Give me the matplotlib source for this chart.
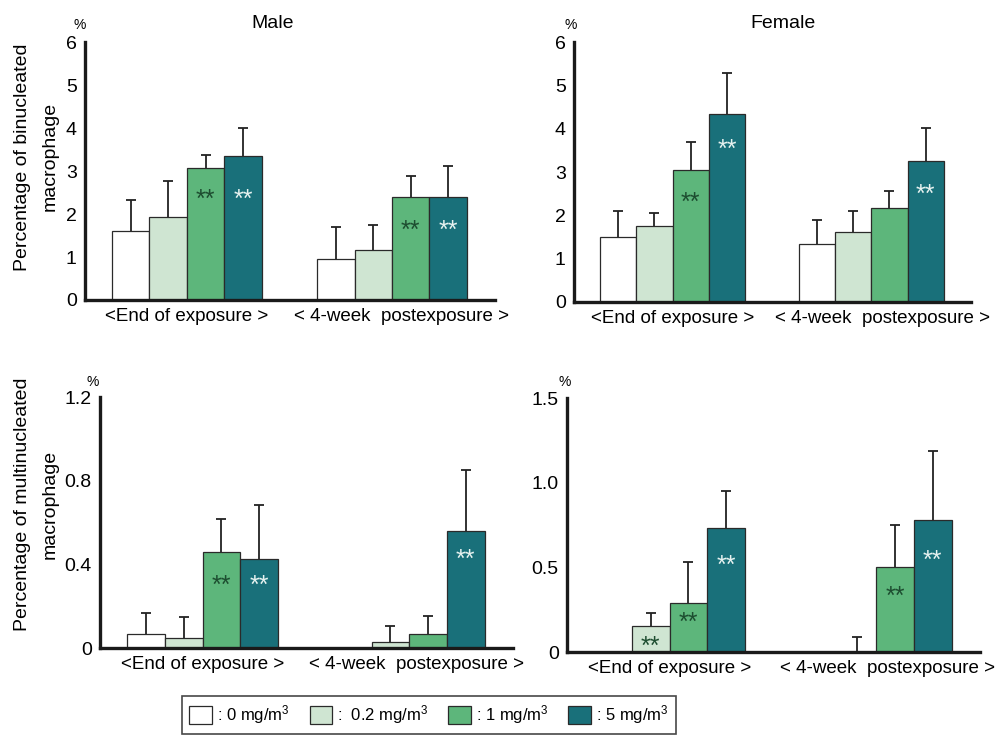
import numpy as np
import matplotlib
matplotlib.use('Agg')
import matplotlib.pyplot as plt
from matplotlib.patches import Patch
from matplotlib.transforms import offset_copy

plt.rcParams['font.family'] = ['Liberation Sans', 'DejaVu Sans']
plt.rcParams['mathtext.default'] = 'regular'

dose_labels = [': 0 mg/m$^3$', ':  0.2 mg/m$^3$', ': 1 mg/m$^3$', ': 5 mg/m$^3$']
colors = ['#ffffff', '#cfe5d2', '#5db67b', '#19707a']
star_colors = ['#1d4d30', '#1d4d30', '#1d4d30', '#e6f2f0']
groups = ['<End of exposure >', '< 4-week  postexposure >']

# mean / upper error, per group (end of exposure, 4-week post), per dose
male_bi_mean = [[1.60, 1.93, 3.07, 3.35], [0.95, 1.16, 2.40, 2.40]]
male_bi_err = [[0.73, 0.84, 0.30, 0.65], [0.75, 0.58, 0.48, 0.72]]
female_bi_mean = [[1.50, 1.76, 3.05, 4.34], [1.34, 1.62, 2.17, 3.26]]
female_bi_err = [[0.60, 0.29, 0.65, 0.95], [0.55, 0.48, 0.39, 0.76]]
male_multi_mean = [[0.067, 0.048, 0.46, 0.425], [0.0, 0.03, 0.067, 0.56]]
male_multi_err = [[0.10, 0.10, 0.157, 0.26], [np.nan, 0.075, 0.086, 0.29]]
female_multi_mean = [[0.0, 0.154, 0.29, 0.73], [0.0, 0.0, 0.50, 0.78]]
female_multi_err = [[np.nan, 0.076, 0.24, 0.22], [np.nan, 0.09, 0.25, 0.41]]

# ** marks: (group, dose, y)
male_bi_stars = [(0, 2, 2.44), (0, 3, 2.44), (1, 2, 1.72), (1, 3, 1.72)]
female_bi_stars = [(0, 2, 2.40), (0, 3, 3.62), (1, 3, 2.60)]
male_multi_stars = [(0, 2, 0.32), (0, 3, 0.32), (1, 3, 0.445)]
female_multi_stars = [(0, 1, 0.06), (0, 2, 0.20), (0, 3, 0.54), (1, 2, 0.355), (1, 3, 0.57)]

FS = 14

fig = plt.figure(figsize=(10, 7.4), dpi=100)


def panel(rect, means, errs, stars, ymax, yticks, yticklabels, lab_shift):
    ax = fig.add_axes(rect)
    for g in range(2):
        x = g * 5.48 + 1.22 + np.arange(4)
        ax.bar(x, means[g], width=1.0, color=colors, edgecolor='#2a2a2a', linewidth=0.9, zorder=2)
        err = np.array(errs[g])
        eb = ax.errorbar(x, means[g], yerr=[np.zeros(4), err], fmt='none', ecolor='#222222',
                         elinewidth=1.3, capsize=3.5, capthick=1.3, zorder=1)
        eb[1][0].set_visible(False)
    # asterisk glyph sits high in the font, nudge it down a bit
    star_tr = offset_copy(ax.transData, fig=fig, x=0, y=-5, units='dots')
    for g, d, y in stars:
        ax.text(g * 5.48 + 1.22 + d, y, '**', ha='center', va='center', fontsize=18,
                color=star_colors[d], zorder=3, transform=star_tr)
    ax.set_xlim(0, 10.95)
    ax.set_ylim(0, ymax)
    ax.set_yticks(yticks)
    ax.set_yticklabels(yticklabels, fontsize=FS)
    ax.set_xticks([1.22 + 1.5, 1.22 + 5.48 + 1.5 + lab_shift])
    ax.set_xticklabels(groups, fontsize=13.5)
    ax.tick_params(length=0, pad=6)
    for s in ['top', 'right']:
        ax.spines[s].set_visible(False)
    for s in ['left', 'bottom']:
        ax.spines[s].set_linewidth(2.4)
        ax.spines[s].set_color('#1a1a1a')
    return ax


panel([0.085, 0.5946, 0.41, 0.3486], male_bi_mean, male_bi_err, male_bi_stars,
      6, range(7), [str(v) for v in range(7)], 0.25)
panel([0.574, 0.592, 0.397, 0.351], female_bi_mean, female_bi_err, female_bi_stars,
      6, range(7), [str(v) for v in range(7)], 0.3)
panel([0.100, 0.1243, 0.413, 0.339], male_multi_mean, male_multi_err, male_multi_stars,
      1.2, [0, 0.4, 0.8, 1.2], ['0', '0.4', '0.8', '1.2'], 0.2)
panel([0.567, 0.1189, 0.413, 0.343], female_multi_mean, female_multi_err, female_multi_stars,
      1.5, [0, 0.5, 1.0, 1.5], ['0', '0.5', '1.0', '1.5'], 0.3)

fig.text(0.273, 0.968, 'Male', ha='center', va='center', fontsize=FS)
fig.text(0.783, 0.968, 'Female', ha='center', va='center', fontsize=FS)
for x, y in [(0.080, 0.966), (0.571, 0.966), (0.093, 0.484), (0.565, 0.484)]:
    fig.text(x, y, '%', ha='center', va='center', fontsize=10)

fig.text(0.036, 0.788, 'Percentage of binucleated\nmacrophage', rotation=90,
         ha='center', va='center', fontsize=FS, linespacing=1.8)
fig.text(0.036, 0.318, 'Percentage of multinucleated\nmacrophage', rotation=90,
         ha='center', va='center', fontsize=FS, linespacing=1.8)

handles = [Patch(facecolor=c, edgecolor='#2a2a2a', linewidth=0.9) for c in colors]
leg = fig.legend(handles, dose_labels, loc='center', bbox_to_anchor=(0.429, 0.034), ncol=4,
                 frameon=True, fancybox=False, edgecolor='#1a1a1a', fontsize=12,
                 handlelength=1.35, handleheight=1.35, handletextpad=0.3,
                 columnspacing=1.2, borderpad=0.45)
leg.get_frame().set_linewidth(1.2)

fig.savefig('out.png', dpi=100)
